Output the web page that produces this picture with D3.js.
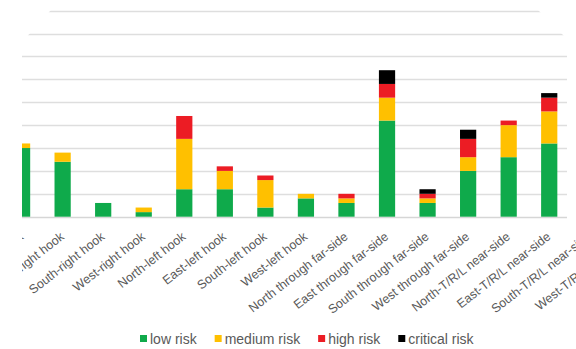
<!DOCTYPE html>
<html>
<head>
<meta charset="utf-8">
<script src="https://cdn.jsdelivr.net/npm/d3@7/dist/d3.min.js"></script>
<style>
  html, body { margin: 0; padding: 0; background: #fff; }
  svg { display: block; font-family: "Liberation Sans", Arial, sans-serif; }
</style>
</head>
<body>
<div id="chart"></div>
<script>
// Conflict types by approach, stacked by risk level
const categories = [
  "North-right hook", "East-right hook", "South-right hook", "West-right hook",
  "North-left hook", "East-left hook", "South-left hook", "West-left hook",
  "North through far-side", "East through far-side", "South through far-side", "West through far-side",
  "North-T/R/L near-side", "East-T/R/L near-side", "South-T/R/L near-side", "West-T/R/L near-side"
];
const lowRisk      = [15, 12, 3, 1, 6, 6, 2, 4, 3, 21, 3, 10, 13, 16, null, null];
const mediumRisk   = [ 1,  2, 0, 1, 11, 4, 6, 1, 1,  5, 1,  3,  7,  7, null, null];
const highRisk     = [ 0,  0, 0, 0, 5, 1, 1, 0, 1,  3, 1,  4,  1,  3, null, null];
const criticalRisk = [ 0,  0, 0, 0, 0, 0, 0, 0, 0,  3, 1,  2,  0,  1, null, null];

const seriesNames  = ["low risk", "medium risk", "high risk", "critical risk"];
const seriesColors = ["#0faa4b", "#ffc000", "#ec1c24", "#000000"];
const yTicks = [0, 5, 10, 15, 20, 25, 30, 35, 40, 45];

const W = 576, H = 349;
const svg = d3.select("#chart").append("svg").attr("width", W).attr("height", H);

const table = categories.map((c, i) => ({
  cat: c,
  "low risk": lowRisk[i],
  "medium risk": mediumRisk[i],
  "high risk": highRisk[i],
  "critical risk": criticalRisk[i],
  hasData: lowRisk[i] !== null
}));

const x = d3.scaleBand().domain(categories).range([1.8, 650.6]).paddingInner(0.6).paddingOuter(0.3);
const y = d3.scaleLinear().domain([0, 45]).range([216.7, 10.7]);
const color = d3.scaleOrdinal().domain(seriesNames).range(seriesColors);

// visible plotting region
const defs = svg.append("defs");
defs.append("clipPath").attr("id", "plotClip")
  .append("polygon")
  .attr("points", "22,42 60,0 528,0 576,48 576,349 22,349");

const g = svg.append("g").attr("clip-path", "url(#plotClip)");

// horizontal gridlines
g.append("g").selectAll("line").data(yTicks.slice(1)).join("line")
  .attr("x1", 22).attr("x2", 567)
  .attr("y1", d => Math.round(y(d)) + 0.5).attr("y2", d => Math.round(y(d)) + 0.5)
  .attr("stroke", "#dedede").attr("stroke-width", 1.3);

// category axis line
g.append("line")
  .attr("x1", 22).attr("x2", 567)
  .attr("y1", Math.round(y(0)) + 0.5).attr("y2", Math.round(y(0)) + 0.5)
  .attr("stroke", "#d6d6d6").attr("stroke-width", 1.3);

// stacked bars
const stacked = d3.stack().keys(seriesNames).value((d, k) => d[k] || 0)(table.filter(d => d.hasData));
g.append("g").selectAll("g").data(stacked).join("g")
  .attr("fill", d => color(d.key))
  .selectAll("rect").data(d => d).join("rect")
  .attr("x", d => x(d.data.cat))
  .attr("width", x.bandwidth())
  .attr("y", d => y(d[1]))
  .attr("height", d => y(d[0]) - y(d[1]));

// rotated category labels, each ending at its bar
g.append("g").selectAll("text").data(categories).join("text")
  .attr("transform", d => `translate(${x(d) + x.bandwidth() / 2 - 0.5},${y(0) + 18}) rotate(-38)`)
  .attr("text-anchor", "end")
  .attr("dy", "0.35em")
  .attr("fill", "#595959")
  .style("font-size", "12.5px")
  .text(d => d);

// legend
const legend = svg.append("g").attr("transform", "translate(140,339)");
let lx = 0;
seriesNames.forEach((name, i) => {
  const item = legend.append("g").attr("transform", `translate(${lx},0)`);
  item.append("rect").attr("x", 0).attr("y", -4).attr("width", 7).attr("height", 7)
    .attr("fill", seriesColors[i]);
  const t = item.append("text").attr("x", 10).attr("y", 0).attr("dy", "0.35em")
    .attr("fill", "#595959").style("font-size", "14px").text(name);
  lx += 10 + t.node().getComputedTextLength() + 18;
});
</script>
</body>
</html>
